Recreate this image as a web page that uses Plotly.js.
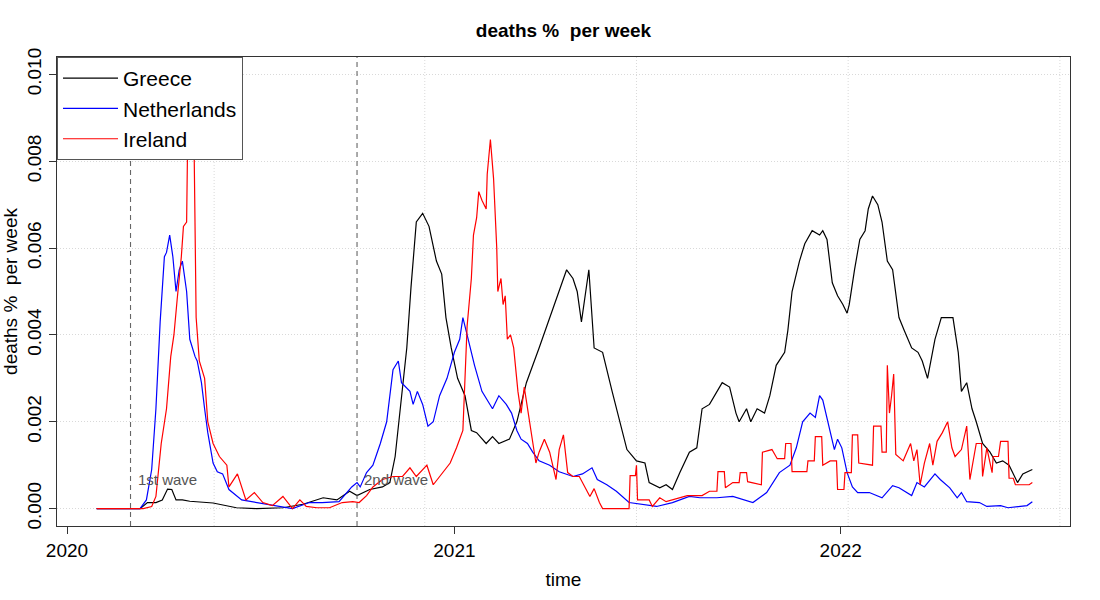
<!DOCTYPE html>
<html>
<head>
<meta charset="utf-8">
<script src="https://cdn.plot.ly/plotly-3.0.1.min.js"></script>
<style>
  body { margin: 0; background: #fff; }
  #chart { width: 1100px; height: 600px; }
</style>
</head>
<body>
<div id="chart"></div>
<script>
// Greece: weekly deaths as % of population
const greeceDates = ['2020-01-29','2020-03-10','2020-03-17','2020-03-25','2020-03-31','2020-04-05','2020-04-09','2020-04-13','2020-04-19','2020-04-26',
  '2020-05-18','2020-06-09','2020-06-28','2020-07-23','2020-08-11','2020-08-30','2020-09-12','2020-09-24','2020-10-01','2020-10-13',
  '2020-10-25','2020-11-01','2020-11-06','2020-11-10','2020-11-17','2020-11-21','2020-11-26','2020-12-02','2020-12-08','2020-12-15',
  '2020-12-20','2020-12-24','2020-12-29','2021-01-04','2021-01-11','2021-01-17','2021-01-22','2021-01-31','2021-02-06','2021-02-12',
  '2021-02-22','2021-03-01','2021-03-10','2021-03-22','2021-04-01','2021-04-10','2021-04-17','2021-04-23','2021-04-27','2021-05-01',
  '2021-05-06','2021-05-08','2021-05-13','2021-05-21','2021-05-30','2021-06-06','2021-06-13','2021-06-22','2021-06-30','2021-07-04',
  '2021-07-14','2021-07-20','2021-07-26','2021-08-02','2021-08-11','2021-08-18','2021-08-23','2021-08-30','2021-09-06','2021-09-11',
  '2021-09-18','2021-09-24','2021-09-27','2021-10-04','2021-10-08','2021-10-14','2021-10-21','2021-10-26','2021-11-01','2021-11-09',
  '2021-11-12','2021-11-16','2021-11-23','2021-11-28','2021-12-05','2021-12-12','2021-12-15','2021-12-19','2021-12-22','2021-12-24',
  '2021-12-29','2022-01-03','2022-01-07','2022-01-09','2022-01-14','2022-01-19','2022-01-24','2022-01-27','2022-01-31','2022-02-05',
  '2022-02-09','2022-02-14','2022-02-19','2022-02-25','2022-03-02','2022-03-09','2022-03-15','2022-03-19','2022-03-24','2022-03-31',
  '2022-04-06','2022-04-11','2022-04-17','2022-04-22','2022-04-25','2022-04-30','2022-05-05','2022-05-09','2022-05-15','2022-05-22',
  '2022-05-28','2022-06-03','2022-06-09','2022-06-17','2022-06-22','2022-07-01'];
const greeceVals = [0,0,0.00014,0.00014,0.0002,0.00045,0.00044,0.0002,0.0002,0.00017,
  0.00013,0.00002,0,0.00002,0.0001,0.00025,0.0002,0.0004,0.0003,0.00044,
  0.0005,0.0006,0.0012,0.0021,0.0037,0.0051,0.0066,0.0068,0.0065,0.0057,
  0.0054,0.0044,0.0037,0.003,0.0026,0.0018,0.00175,0.0015,0.00166,0.0015,
  0.0016,0.002,0.0029,0.0037,0.0044,0.005,0.0055,0.0053,0.005,0.0043,
  0.0051,0.0055,0.0037,0.0036,0.0027,0.002,0.00136,0.0011,0.00105,0.0006,
  0.00048,0.00055,0.00044,0.00083,0.0013,0.0014,0.0023,0.0024,0.0027,0.0029,
  0.0028,0.0022,0.002,0.0023,0.002,0.0023,0.0022,0.0026,0.0033,0.0036,
  0.0041,0.005,0.0057,0.0061,0.0064,0.0063,0.0064,0.0062,0.0056,0.0052,
  0.0049,0.0047,0.0045,0.0047,0.0055,0.0062,0.0064,0.0069,0.0072,0.007,
  0.0066,0.0057,0.0055,0.0044,0.0041,0.0037,0.0036,0.0034,0.003,0.0039,
  0.0044,0.0044,0.0044,0.0036,0.0027,0.0029,0.0023,0.002,0.0015,0.0013,
  0.00105,0.0011,0.001,0.0006,0.0008,0.0009];

// Netherlands
const nlDates = ['2020-01-29','2020-03-10','2020-03-16','2020-03-21','2020-03-25','2020-03-29','2020-04-02','2020-04-04','2020-04-07','2020-04-10',
  '2020-04-13','2020-04-16','2020-04-19','2020-04-23','2020-04-26','2020-05-01','2020-05-03','2020-05-07','2020-05-10','2020-05-13',
  '2020-05-18','2020-05-22','2020-05-27','2020-06-02','2020-06-14','2020-06-28','2020-07-20','2020-08-01','2020-08-17','2020-08-29',
  '2020-09-14','2020-09-26','2020-10-01','2020-10-04','2020-10-10','2020-10-16','2020-10-23','2020-10-29','2020-11-04','2020-11-09',
  '2020-11-12','2020-11-20','2020-11-23','2020-11-27','2020-12-02','2020-12-07','2020-12-12','2020-12-18','2020-12-25','2021-01-01',
  '2021-01-06','2021-01-09','2021-01-13','2021-01-20','2021-01-27','2021-02-06','2021-02-12','2021-02-19','2021-02-24','2021-03-01',
  '2021-03-05','2021-03-11','2021-03-16','2021-03-22','2021-04-01','2021-04-10','2021-04-23','2021-05-02','2021-05-11','2021-05-16',
  '2021-05-25','2021-06-03','2021-06-15','2021-07-11','2021-07-26','2021-08-11','2021-08-21','2021-09-06','2021-09-21','2021-10-10',
  '2021-10-23','2021-11-04','2021-11-14','2021-11-20','2021-11-26','2021-12-03','2021-12-08','2021-12-12','2021-12-15','2021-12-20',
  '2021-12-26','2021-12-29','2022-01-02','2022-01-07','2022-01-12','2022-01-17','2022-01-28','2022-02-09','2022-02-19','2022-02-25',
  '2022-03-09','2022-03-14','2022-03-21','2022-03-31','2022-04-05','2022-04-14','2022-04-21','2022-04-25','2022-04-30','2022-05-12',
  '2022-05-19','2022-06-01','2022-06-08','2022-06-26','2022-07-01'];
const nlVals = [0,0,0.0002,0.0009,0.0023,0.0043,0.0058,0.0059,0.0063,0.0058,
  0.005,0.0055,0.0057,0.005,0.0039,0.0035,0.0034,0.0029,0.0023,0.00175,
  0.00105,0.00085,0.0008,0.00044,0.0002,0.00014,0.00005,0,0.00014,0.00014,
  0.00016,0.0005,0.0006,0.0005,0.00083,0.001,0.0015,0.002,0.0032,0.0034,
  0.0029,0.0027,0.0024,0.0027,0.0024,0.0019,0.002,0.0026,0.003,0.0036,
  0.0039,0.0044,0.004,0.0033,0.0027,0.0023,0.0026,0.0024,0.0022,0.0018,
  0.0016,0.0015,0.0013,0.0011,0.001,0.00085,0.00074,0.0008,0.00094,0.00067,
  0.00055,0.0004,0.00014,0.00005,0.00014,0.00028,0.00025,0.00025,0.00028,0.00014,
  0.00037,0.00083,0.001,0.0014,0.002,0.0022,0.0021,0.0026,0.0025,0.002,
  0.00136,0.0016,0.0014,0.00083,0.0005,0.00037,0.00037,0.00025,0.00053,0.00048,
  0.0003,0.0006,0.0005,0.0008,0.00067,0.00048,0.00025,0.00037,0.00016,0.00014,
  0.00005,0.00007,0.00002,0.00007,0.00016];

// Ireland
const ieDates = ['2020-01-29','2020-03-13','2020-03-21','2020-03-25','2020-03-30','2020-04-04','2020-04-08','2020-04-11','2020-04-14','2020-04-18',
  '2020-04-20','2020-04-23','2020-04-25','2020-04-29','2020-05-02','2020-05-05','2020-05-10','2020-05-13','2020-05-18','2020-05-24',
  '2020-05-31','2020-06-02','2020-06-10','2020-06-18','2020-06-26','2020-07-04','2020-07-13','2020-07-23','2020-08-01','2020-08-08',
  '2020-08-14','2020-08-24','2020-09-05','2020-09-17','2020-09-27','2020-10-03','2020-10-10','2020-10-16','2020-10-25','2020-11-04',
  '2020-11-13','2020-11-20','2020-11-26','2020-12-06','2020-12-12','2020-12-21','2020-12-28','2021-01-03','2021-01-09','2021-01-13',
  '2021-01-17','2021-01-19','2021-01-22','2021-01-24','2021-01-27','2021-01-31','2021-02-01','2021-02-04','2021-02-07','2021-02-10',
  '2021-02-11','2021-02-14','2021-02-16','2021-02-18','2021-02-20','2021-02-23','2021-02-26','2021-03-02','2021-03-05','2021-03-08',
  '2021-03-11','2021-03-16','2021-03-19','2021-03-22','2021-03-27','2021-04-01','2021-04-07','2021-04-10','2021-04-14','2021-04-18',
  '2021-04-23','2021-04-29','2021-05-04','2021-05-09','2021-05-13','2021-05-18','2021-05-21','2021-06-15','2021-06-16','2021-06-21',
  '2021-06-22','2021-06-23','2021-07-04','2021-07-07','2021-07-14','2021-07-20','2021-08-09','2021-08-23','2021-08-30','2021-09-06',
  '2021-09-07','2021-09-13','2021-09-14','2021-09-21','2021-09-27','2021-09-28','2021-10-04','2021-10-05','2021-10-18','2021-10-19',
  '2021-10-28','2021-11-02','2021-11-09','2021-11-10','2021-11-15','2021-11-16','2021-11-30','2021-12-01','2021-12-07','2021-12-08',
  '2021-12-14','2021-12-15','2021-12-22','2021-12-28','2021-12-29','2022-01-04','2022-01-05','2022-01-11','2022-01-12','2022-01-17',
  '2022-01-18','2022-01-31','2022-02-01','2022-02-08','2022-02-09','2022-02-13','2022-02-14','2022-02-16','2022-02-18','2022-02-20',
  '2022-02-22','2022-03-01','2022-03-08','2022-03-11','2022-03-14','2022-03-17','2022-03-21','2022-03-26','2022-03-29','2022-04-02',
  '2022-04-07','2022-04-12','2022-04-16','2022-04-19','2022-04-25','2022-04-30','2022-05-03','2022-05-09','2022-05-14','2022-05-15',
  '2022-05-19','2022-05-24','2022-05-25','2022-05-30','2022-06-01','2022-06-08','2022-06-09','2022-06-13','2022-06-15','2022-06-28',
  '2022-07-01'];
const ieVals = [0,0,0.00005,0.00028,0.0015,0.0023,0.0035,0.004,0.0048,0.0058,
  0.0065,0.0066,0.0105,0.0105,0.0044,0.0034,0.003,0.002,0.0015,0.0012,
  0.001,0.0005,0.0008,0.0002,0.00037,0.00014,0.00007,0.00028,0,0.0002,
  0.00005,0.00002,0.00002,0.00014,0.00016,0.00014,0.0003,0.0005,0.00067,0.00074,
  0.00074,0.00094,0.00074,0.001,0.00055,0.00083,0.00105,0.0014,0.0018,0.0042,
  0.0053,0.0063,0.0067,0.0073,0.0071,0.0069,0.0077,0.0085,0.0076,0.006,
  0.005,0.0053,0.0047,0.0049,0.0039,0.004,0.0037,0.0027,0.0022,0.0028,
  0.0023,0.0015,0.00105,0.0013,0.0016,0.0013,0.00067,0.00136,0.0017,0.00083,
  0.00074,0.00074,0.0005,0.00028,0.00046,0.00014,0,0,0.00076,0.00076,
  0.001,0.0002,0.0002,0.00005,0.00025,0.00016,0.0003,0.0003,0.0004,0.0004,
  0.00085,0.00085,0.00048,0.0006,0.0006,0.00083,0.00083,0.00062,0.00055,0.0013,
  0.00136,0.00115,0.00115,0.0015,0.0015,0.00085,0.00085,0.0011,0.0011,0.00166,
  0.00166,0.001,0.0011,0.0011,0.00044,0.00044,0.00083,0.00083,0.0017,0.0017,
  0.00105,0.001,0.0019,0.0019,0.0013,0.0013,0.0033,0.0022,0.0026,0.0031,
  0.00125,0.0011,0.0015,0.0011,0.00136,0.00055,0.00105,0.0015,0.001,0.00155,
  0.00175,0.002,0.0014,0.0012,0.00136,0.0019,0.00067,0.0015,0.0015,0.00074,
  0.0014,0.00083,0.0012,0.0012,0.00155,0.00155,0.0007,0.0007,0.00055,0.00055,
  0.0006];

// wave start markers and the dotted x grid (R's grid() positions)
const waveDates = ['2020-03-01', '2020-10-01'];
const waveLabels = ['1st wave', '2nd wave'];
const gridDates = ['2020-05-19', '2020-12-04', '2021-06-22', '2022-01-08', '2022-07-27'];
const yearTicks = ['2020-01-01', '2021-01-01', '2022-01-01'];
const yearLabels = ['2020', '2021', '2022'];

const FONT = 'Liberation Sans, Arial, sans-serif';
const GRID = '#d9d9d9';

function makeLine(name, x, y, color) {
    return {
        type: 'scatter', mode: 'lines', name: name,
        x: x, y: y,
        line: { color: color, width: 1.2 },
        hoverinfo: 'skip'
    };
}

const data = [
    makeLine('Greece', greeceDates, greeceVals, 'black'),
    makeLine('Netherlands', nlDates, nlVals, 'blue'),
    makeLine('Ireland', ieDates, ieVals, 'red')
];

const shapes = [];
gridDates.forEach(d => {
    shapes.push({ type: 'line', xref: 'x', yref: 'paper', x0: d, x1: d, y0: 0, y1: 1,
        line: { color: GRID, width: 1, dash: '1px,2px' }, layer: 'below' });
});
waveDates.forEach(d => {
    shapes.push({ type: 'line', xref: 'x', yref: 'paper', x0: d, x1: d, y0: 0, y1: 1,
        line: { color: '#666', width: 1.1, dash: '5px,4px' } });
});

const annotations = waveDates.map((d, i) => ({
    x: d, y: 0.00068, xref: 'x', yref: 'y', text: waveLabels[i],
    showarrow: false, xanchor: 'left', yanchor: 'middle', xshift: 5,
    font: { family: FONT, size: 15, color: '#555' }
}));

const layout = {
    width: 1100, height: 600,
    margin: { l: 57, r: 30, t: 57, b: 74 },
    paper_bgcolor: 'white', plot_bgcolor: 'white',
    font: { family: FONT, size: 19, color: 'black' },
    title: {
        text: '<b>deaths % \u00a0per week</b>',
        font: { family: FONT, size: 19, color: 'black' },
        x: 0.5, xref: 'paper', xanchor: 'center', y: 0.95, yanchor: 'middle'
    },
    showlegend: true,
    legend: {
        x: 0, y: 1, xanchor: 'left', yanchor: 'top',
        bgcolor: 'white', bordercolor: '#555', borderwidth: 1,
        font: { family: FONT, size: 21, color: 'black' },
        itemwidth: 55
    },
    xaxis: {
        type: 'date',
        range: ['2019-12-22 13:00', '2022-08-05 14:00'],
        tickvals: yearTicks, ticktext: yearLabels,
        ticks: 'outside', ticklen: 7, tickcolor: '#333',
        showgrid: false, zeroline: false,
        showline: true, linecolor: '#333', linewidth: 1, mirror: true,
        tickfont: { family: FONT, size: 19 },
        title: { text: 'time', font: { family: FONT, size: 19 }, standoff: 12 }
    },
    yaxis: {
        range: [-0.0004, 0.0104],
        tick0: 0, dtick: 0.002, tickformat: '.3f',
        tickangle: -90,
        ticks: 'outside', ticklen: 7, tickcolor: '#333',
        showgrid: true, gridcolor: GRID, griddash: '1px,2px', gridwidth: 1,
        zeroline: false,
        showline: true, linecolor: '#333', linewidth: 1, mirror: true,
        tickfont: { family: FONT, size: 19 },
        title: { text: 'deaths % \u00a0per week', font: { family: FONT, size: 19 }, standoff: 2 }
    },
    shapes: shapes,
    annotations: annotations
};

Plotly.newPlot('chart', data, layout, { displayModeBar: false, staticPlot: true });
</script>
</body>
</html>
